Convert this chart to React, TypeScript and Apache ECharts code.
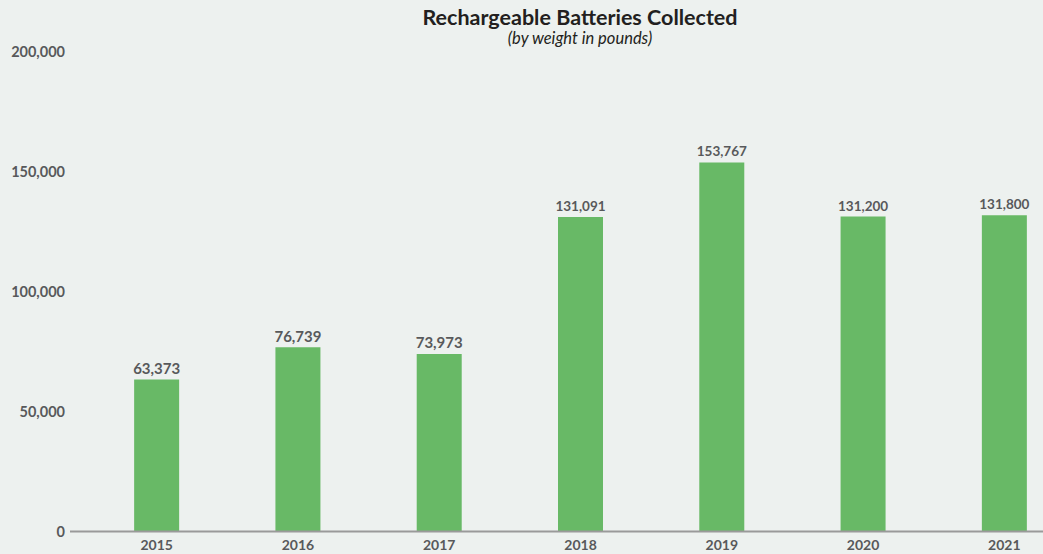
import React, { useEffect, useRef } from "react";
import * as echarts from "echarts";

const years = ["2015", "2016", "2017", "2018", "2019", "2020", "2021"];
const pounds = [63373, 76739, 73973, 131091, 153767, 131200, 131800];
const labelSizes = [15, 15, 15, 13.5, 13.5, 13.5, 13.5];
const yTicks = [0, 50000, 100000, 150000, 200000];

const FONT = "Lato, 'Noto Sans', sans-serif";
const fmt = (v: number) => v.toLocaleString("en-US");

export default function App() {
  const ref = useRef<HTMLDivElement>(null);
  useEffect(() => {
    document.body.style.margin = "0";
    const chart = echarts.init(ref.current!, undefined, { renderer: "svg" });
    chart.setOption({
      animation: false,
      backgroundColor: "#EDF1EF",
      title: [
        {
          text: "Rechargeable Batteries Collected",
          left: 580,
          top: 5,
          padding: 0,
          textAlign: "center",
          textStyle: { fontFamily: FONT, fontWeight: 700, fontSize: 21.5, lineHeight: 23, color: "#231F20" },
        },
        {
          text: "(by weight in pounds)",
          left: 580,
          top: 29,
          padding: 0,
          textAlign: "center",
          textStyle: { fontFamily: FONT, fontStyle: "italic", fontWeight: 400, fontSize: 16.5, lineHeight: 18, color: "#231F20" },
        },
      ],
      grid: { left: 86, right: 0, top: 51.5, bottom: 22.5, containLabel: false },
      xAxis: {
        type: "category",
        data: years,
        axisLine: { show: false },
        axisTick: { show: false },
        axisLabel: { fontFamily: FONT, fontWeight: 700, fontSize: 14, color: "#58595B", margin: 6 },
      },
      yAxis: {
        type: "value",
        min: yTicks[0],
        max: yTicks[yTicks.length - 1],
        interval: 50000,
        splitLine: { show: false },
        axisLine: { show: false },
        axisTick: { show: false },
        axisLabel: {
          fontFamily: FONT,
          fontWeight: 700,
          fontSize: 14.5,
          color: "#58595B",
          margin: 21,
          formatter: (v: number) => fmt(v),
        },
      },
      graphic: [
        {
          type: "line",
          shape: { x1: 70, y1: 531.5, x2: 1075, y2: 531.5 },
          style: { stroke: "#9A9A9A", lineWidth: 2 },
          z: 10,
        },
      ],
      series: [
        {
          type: "bar",
          barWidth: 45,
          itemStyle: { color: "#68B966" },
          data: pounds.map((v, i) => ({
            value: v,
            label: {
              show: true,
              position: "top",
              distance: 4,
              fontFamily: FONT,
              fontWeight: 700,
              fontSize: labelSizes[i],
              color: "#58595B",
              formatter: () => fmt(v),
            },
          })),
        },
      ],
    });
    return () => chart.dispose();
  }, []);
  return (
    <div style={{ position: "absolute", left: 0, top: 0, width: 1043, height: 554, overflow: "hidden" }}>
      <div ref={ref} style={{ position: "absolute", left: 0, top: 0, width: 1075, height: 554 }} />
    </div>
  );
}
